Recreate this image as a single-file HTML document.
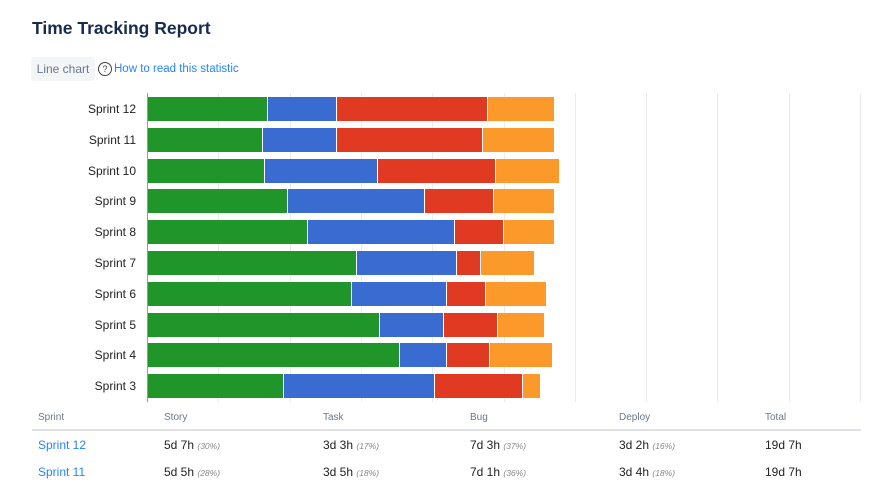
<!DOCTYPE html>
<html><head><style>
body{margin:0;width:871px;height:495px;overflow:hidden;background:#fff;font-family:"Liberation Sans",sans-serif;position:relative}
.a{position:absolute;white-space:nowrap}
.seg{position:absolute;height:24px;box-sizing:border-box;border-right:1px solid #fff}
.lbl{position:absolute;right:735px;font-size:12px;color:#222}
.g{position:absolute;top:93px;height:309px;width:1px;background:#ebebeb}
.th{font-size:10px;color:#6b778c;top:412px}
.td{font-size:12px;color:#222}
.td i{font-size:8.5px;color:#888}
</style></head><body>
<div class="a" style="left:32px;top:18px;font-size:17.5px;font-weight:bold;color:#172b4d">Time Tracking Report</div>
<div class="a" style="left:31px;top:57px;width:64px;height:24px;background:#f4f5f7;border-radius:3px;font-size:12px;color:#6b778c;line-height:24px;text-align:center">Line chart</div>
<div class="a" style="left:98px;top:62px;width:12px;height:12px;border:1px solid #444;border-radius:50%;font-size:9px;line-height:12px;text-align:center;color:#444">?</div>
<div class="a" style="left:114px;top:62px;font-size:11.5px;line-height:14px;color:#2684ff">How to read this statistic</div>
<div id="c"></div>
<div class="a th" style="left:38px">Sprint</div>
<div class="a th" style="left:164px">Story</div>
<div class="a th" style="left:323px">Task</div>
<div class="a th" style="left:470px">Bug</div>
<div class="a th" style="left:619px">Deploy</div>
<div class="a th" style="left:765px">Total</div>
<div class="a" style="left:32px;top:429px;width:829px;height:2px;background:#dfe1e6"></div>
<div class="a td" style="left:38px;top:438px;color:#2684ff">Sprint 12</div>
<div class="a td" style="left:164px;top:438px">5d 7h <i>(30%)</i></div>
<div class="a td" style="left:323px;top:438px">3d 3h <i>(17%)</i></div>
<div class="a td" style="left:470px;top:438px">7d 3h <i>(37%)</i></div>
<div class="a td" style="left:619px;top:438px">3d 2h <i>(16%)</i></div>
<div class="a td" style="left:765px;top:438px">19d 7h</div>
<div class="a td" style="left:38px;top:465px;color:#2684ff">Sprint 11</div>
<div class="a td" style="left:164px;top:465px">5d 5h <i>(28%)</i></div>
<div class="a td" style="left:323px;top:465px">3d 5h <i>(18%)</i></div>
<div class="a td" style="left:470px;top:465px">7d 1h <i>(36%)</i></div>
<div class="a td" style="left:619px;top:465px">3d 4h <i>(18%)</i></div>
<div class="a td" style="left:765px;top:465px">19d 7h</div>
<script>
var d=[["Sprint 12",268,337,488,555],["Sprint 11",263,337,483,555],["Sprint 10",265,378,496,560],["Sprint 9",288,425,494,555],["Sprint 8",308,455,504,555],["Sprint 7",357,457,481,535],["Sprint 6",352,447,486,547],["Sprint 5",380,444,498,545],["Sprint 4",400,447,490,553],["Sprint 3",284,435,523,541]];
var col=["#20962a","#3a6bd0","#e03a22","#fb9a2b"],h="";
for(var k=1;k<=10;k++)h+='<div class="g" style="left:'+Math.round(147+71.3*k)+'px"></div>';
h+='<div class="g" style="left:147px;background:#999"></div>';
d.forEach(function(r,i){var cy=109+i*30.8,y=Math.round(cy-12);
h+='<div class="lbl" style="top:'+Math.round(cy-7)+'px">'+r[0]+'</div>';
var x=148;for(var j=0;j<4;j++){h+='<div class="seg" style="left:'+x+'px;top:'+y+'px;width:'+(r[j+1]-x)+'px;background:'+col[j]+'"></div>';x=r[j+1];}});
document.getElementById("c").innerHTML=h;
</script>
</body></html>
